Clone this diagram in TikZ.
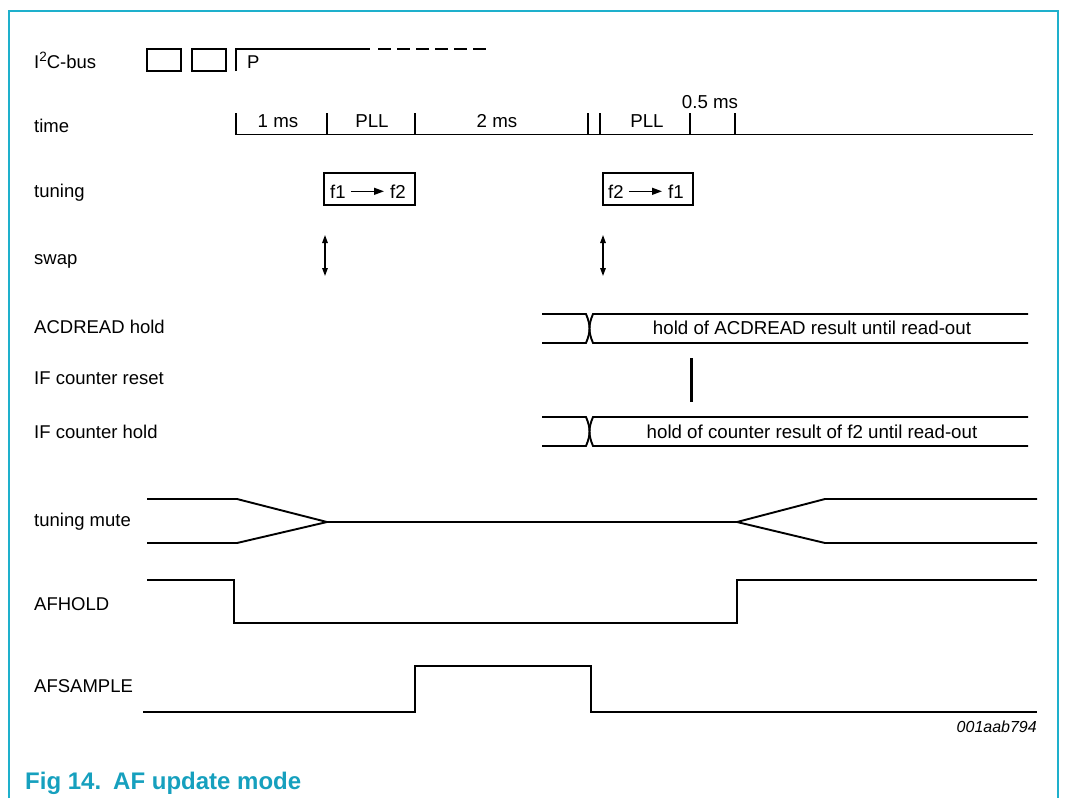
\documentclass[tikz,border=0pt]{standalone}
\usepackage{fontspec}
\setmainfont{Liberation Sans}
\usetikzlibrary{arrows.meta}
\definecolor{nxpcyan}{RGB}{30,176,204}
\definecolor{nxpteal}{RGB}{22,160,190}
\begin{document}
\begin{tikzpicture}[x=1pt,y=-1pt,
  sig/.style={line width=1.9pt, line join=miter},
  lbl/.style={anchor=base west, font=\fontsize{18.5}{20}\selectfont, inner sep=0pt},
  tlbl/.style={anchor=base, font=\fontsize{18.7}{20}\selectfont, inner sep=0pt},
  tick/.style={line width=1.9pt},
  swaparrow/.style={line width=1.4pt, {Triangle[length=8pt,width=5.5pt]}-{Triangle[length=8pt,width=5.5pt]}},
  farrow/.style={line width=1.4pt, -{Triangle[length=10pt,width=7pt]}, shorten <=5pt, shorten >=6pt},
  tbox/.style={sig}
]
\useasboundingbox (0,0) rectangle (1065,798);
% frame
\draw[nxpcyan, line width=2pt] (9,798) -- (9,10.5) -- (1058,10.5) -- (1058,798);

% row labels
\node[lbl] (lI2C) at (34,68) {I\raisebox{6.5pt}{\fontsize{13.5}{13}\selectfont 2}C-bus};
\node[lbl] (ltime) at (34,132.5) {time};
\node[lbl] (ltun) at (34,197) {tuning};
\node[lbl] (lswap) at (34,264) {swap};
\node[lbl] (lacd) at (34,333.5) {ACDREAD hold};
\node[lbl] (lifr) at (34,384.5) {IF counter reset};
\node[lbl] (lifh) at (34,438) {IF counter hold};
\node[lbl] (lmute) at (34,526) {tuning mute};
\node[lbl] (lafh) at (34,610) {AFHOLD};
\node[lbl] (lafs) at (34,692) {AFSAMPLE};

% I2C-bus
\draw[sig] (147,49) rectangle (181,71);
\draw[sig] (192,49) rectangle (226,71);
\draw[sig] (236,71) -- (236,49) -- (370,49);
\draw[sig, dash pattern=on 13pt off 6pt] (378,49) -- (490,49);
\node[lbl] (pstop) at (247,68) {P};

% time axis
\draw[sig] (236,134.5) -- (1033,134.5);
\foreach \x in {236,327,415,588,600,690,735} \draw[tick] (\x,113) -- (\x,134.5);
\node[tlbl] (t1) at (278,127) {1 ms};
\node[tlbl] (t2) at (372,127) {PLL};
\node[tlbl] (t3) at (497,127) {2 ms};
\node[tlbl] (t4) at (647,127) {PLL};
\node[tlbl] (t5) at (710,108) {0.5 ms};

% tuning boxes
\draw[tbox] (324,173) rectangle (415,205);
\node[lbl] (fa1) at (330,198) {f1};
\node[tlbl, anchor=base east] (fa2) at (406,198) {f2};
\draw[farrow] (fa1.east) -- (fa2.west |- fa1.east);
\draw[tbox] (603,173) rectangle (693,205);
\node[lbl] (fb2) at (608,198) {f2};
\node[tlbl, anchor=base east] (fb1) at (684,198) {f1};
\draw[farrow] (fb2.east) -- (fb1.west |- fb2.east);

% swap arrows
\coordinate (s1a) at (325,235); \coordinate (s1b) at (325,276);
\coordinate (s2a) at (603,235); \coordinate (s2b) at (603,276);
\draw[swaparrow] (s1a) -- (s1b);
\draw[swaparrow] (s2a) -- (s2b);

% ACDREAD hold bus
\draw[sig] (542,314) -- (586,314) .. controls (588.5,320) and (589.5,324) .. (589.5,328.5) .. controls (589.5,333) and (590.5,337) .. (593,343) -- (1028,343);
\draw[sig] (542,343) -- (586,343) .. controls (588.5,337) and (589.5,333) .. (589.5,328.5) .. controls (589.5,324) and (590.5,320) .. (593,314) -- (1028,314);
\node[tlbl] (acdtxt) at (812,334.5) {hold of ACDREAD result until read-out};

% IF counter reset
\draw[line width=3pt] (691,358) -- (691,402);

% IF counter hold bus
\draw[sig] (542,417) -- (586,417) .. controls (588.5,423) and (589.5,427) .. (589.5,431.5) .. controls (589.5,436) and (590.5,440) .. (593,446) -- (1028,446);
\draw[sig] (542,446) -- (586,446) .. controls (588.5,440) and (589.5,436) .. (589.5,431.5) .. controls (589.5,427) and (590.5,423) .. (593,417) -- (1028,417);
\node[tlbl] (iftxt) at (812,438) {hold of counter result of f2 until read-out};

% tuning mute
\draw[sig] (147,499) -- (237,499) -- (327,522) -- (737,522) -- (825,499) -- (1037,499);
\draw[sig] (147,543) -- (237,543) -- (327,522);
\draw[sig] (737,522) -- (825,543) -- (1037,543);

% AFHOLD
\draw[sig] (147,580) -- (234,580) -- (234,623) -- (737,623) -- (737,580) -- (1037,580);

% AFSAMPLE
\draw[sig] (143,712) -- (415,712) -- (415,666) -- (591,666) -- (591,712) -- (1037,712);

% figure id and caption
\node[anchor=base east, inner sep=0pt, font=\fontsize{16}{18}\selectfont\itshape] (figid) at (1037,732) {001aab794};
\node[anchor=base west, inner sep=0pt, font=\fontsize{24}{28}\selectfont\bfseries, text=nxpteal] (cap) at (25,789) {Fig 14.\kern 12pt AF update mode};
\end{tikzpicture}
\end{document}
